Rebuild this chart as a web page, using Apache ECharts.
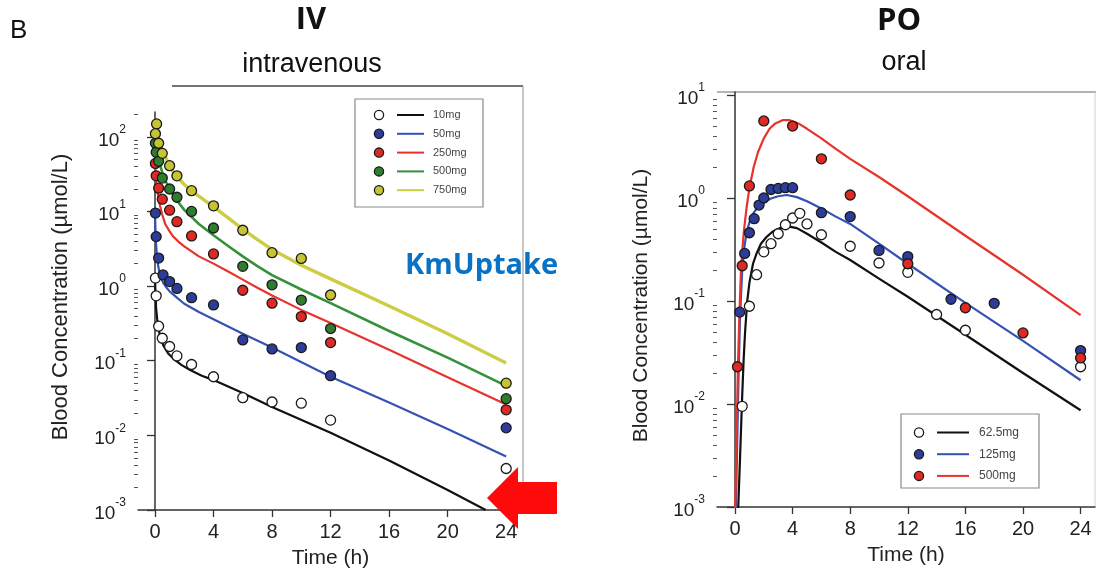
<!DOCTYPE html>
<html><head><meta charset="utf-8">
<style>html,body{margin:0;padding:0;background:#fff}#c{width:1096px;height:576px}</style>
<script src="https://cdn.jsdelivr.net/npm/echarts/dist/echarts.min.js"></script>
</head><body><div id="c"></div>
<script>
// ---------- DATA ----------
const xTicks = [0, 4, 8, 12, 16, 20, 24];
const yTicks = [0.001, 0.01, 0.1, 1, 10, 100];
const yTicksPO = [0.001, 0.01, 0.1, 1, 10];

const ivDoses = ['10mg', '50mg', '250mg', '500mg', '750mg'];
const ivObs10  = [[0.03,1.28],[0.083,0.74],[0.25,0.29],[0.5,0.20],[1,0.155],[1.5,0.116],[2.5,0.089],[4,0.061],[6,0.032],[8,0.028],[10,0.027],[12,0.016],[24,0.0036]];
const ivObs50  = [[0.03,9.5],[0.083,4.6],[0.25,2.37],[0.55,1.41],[1,1.15],[1.5,0.93],[2.5,0.70],[4,0.56],[6,0.19],[8,0.144],[10,0.15],[12,0.063],[24,0.0126]];
const ivObs250 = [[0.03,44],[0.083,30],[0.25,20.5],[0.5,14.6],[1,10.4],[1.5,7.3],[2.5,4.7],[4,2.7],[6,0.88],[8,0.59],[10,0.39],[12,0.175],[24,0.022]];
const ivObs500 = [[0.03,82],[0.083,62],[0.25,47],[0.5,28],[1,20],[1.5,15.5],[2.5,10],[4,6],[6,1.84],[8,1.04],[10,0.65],[12,0.27],[24,0.031]];
const ivObs750 = [[0.11,149],[0.03,110],[0.25,82],[0.5,60],[1,41],[1.5,30],[2.5,19],[4,11.9],[6,5.6],[8,2.8],[10,2.35],[12,0.76],[24,0.050]];

const ivFit10  = [[0,1.3],[0.04,0.75],[0.08,0.5],[0.15,0.36],[0.23,0.28],[0.35,0.21],[0.57,0.16],[0.9,0.125],[1.25,0.107],[1.8,0.088],[2.4,0.075],[3.2,0.063],[4,0.055],[6,0.037],[8,0.024],[12,0.0108],[16,0.0046],[20,0.00185],[22.6,0.001]];
const ivFit50  = [[0,9.5],[0.03,6],[0.07,3.8],[0.13,2.6],[0.23,1.8],[0.37,1.35],[0.57,1.1],[0.8,0.95],[1,0.85],[1.5,0.7],[2,0.58],[3,0.45],[4,0.36],[6,0.23],[8,0.15],[12,0.061],[16,0.0275],[20,0.0122],[24,0.0052]];
const ivFit250 = [[0,45],[0.07,28],[0.15,20],[0.25,14.8],[0.35,11.8],[0.5,9],[0.7,6.8],[1,5.4],[1.25,4.6],[1.6,3.95],[2,3.4],[3,2.5],[4,2.0],[5,1.57],[6,1.22],[7,0.95],[8,0.75],[10,0.48],[12,0.32],[16,0.14],[20,0.06],[24,0.026]];
const ivFit500 = [[0,85],[0.1,66],[0.25,50],[0.5,33],[0.75,25],[1,20],[1.5,14],[2,10.5],[3,6.8],[4,4.8],[5,3.45],[6,2.5],[7,1.85],[8,1.4],[10,0.9],[12,0.59],[16,0.25],[20,0.11],[24,0.046]];
const ivFit750 = [[0,150],[0.25,95],[0.5,68],[1,40],[1.5,29],[2,23],[3,16],[4,11.5],[5,8.2],[6,5.8],[7,4.2],[8,3.1],[10,1.9],[12,1.25],[16,0.54],[20,0.23],[24,0.093]];

const poDoses = ['62.5mg', '125mg', '500mg'];
const poObs62  = [[0.5,0.0095],[1,0.089],[1.5,0.18],[2,0.30],[2.5,0.36],[3,0.45],[3.5,0.55],[4,0.64],[4.5,0.71],[5,0.56],[6,0.44],[8,0.34],[10,0.234],[12,0.19],[14,0.074],[16,0.052],[24,0.023]];
const poObs125 = [[0.33,0.078],[0.67,0.29],[1,0.46],[1.33,0.63],[1.67,0.855],[2,1.0],[2.5,1.21],[3,1.24],[3.5,1.26],[4,1.26],[6,0.72],[8,0.66],[10,0.31],[12,0.27],[15,0.104],[18,0.095],[24,0.033]];
const poObs500 = [[0.17,0.023],[0.5,0.22],[1,1.31],[2,5.6],[4,5.0],[6,2.4],[8,1.07],[12,0.23],[16,0.086],[20,0.049],[24,0.028]];

const poFit62  = [[0.2,0.0008],[0.35,0.003],[0.5,0.012],[0.6,0.027],[0.7,0.05],[0.85,0.1],[1,0.15],[1.25,0.23],[1.5,0.29],[1.8,0.36],[2.2,0.42],[2.6,0.47],[3.1,0.51],[3.7,0.53],[4.3,0.51],[5,0.45],[6,0.37],[7,0.3],[8,0.25],[10,0.165],[12,0.11],[16,0.047],[20,0.02],[24,0.0087]];
const poFit125 = [[0.05,0.0008],[0.15,0.004],[0.25,0.02],[0.35,0.07],[0.5,0.2],[0.65,0.33],[0.8,0.46],[1,0.58],[1.3,0.72],[1.6,0.82],[2,0.91],[2.5,0.99],[3,1.04],[3.6,1.07],[4.3,1.02],[5,0.93],[6,0.79],[7,0.66],[8,0.56],[10,0.36],[12,0.23],[16,0.096],[20,0.041],[24,0.017]];
const poFit500 = [[0,0.0008],[0.1,0.004],[0.2,0.022],[0.3,0.07],[0.42,0.21],[0.6,0.45],[0.8,0.8],[1,1.25],[1.3,2.0],[1.6,2.8],[2,3.8],[2.4,4.7],[2.8,5.3],[3.3,5.7],[3.8,5.7],[4.4,5.3],[5,4.7],[6,3.8],[7,3.0],[8,2.4],[10,1.6],[12,1.04],[16,0.43],[20,0.18],[24,0.073]];

// ---------- STYLE ----------
const dotColors = ['#ffffff', '#2c3c98', '#de2a22', '#2e7d2e', '#c6c435'];
const lineColors = ['#111111', '#3452b4', '#e8322c', '#35913a', '#cccc45'];
const lineWidths = [2.2, 2.2, 2.2, 2.6, 3.4];
const poDot = ['#ffffff', '#2c3c98', '#de2a22'];
const poLine = ['#111111', '#3452b4', '#e8322c'];

const FONT = 'Liberation Sans, Arial, sans-serif';
const minorVals = [];
for (let e = -3; e <= 2; e++) for (let m = 2; m <= 9; m++) minorVals.push(+(m * Math.pow(10, e)).toPrecision(3));

function logLabel(v) {
  const e = Math.round(Math.log10(v));
  return '{b|10}{s|' + e + '}';
}
const richLbl = {
  b: { fontSize: 19, fontFamily: FONT, color: '#222', verticalAlign: 'bottom', lineHeight: 26 },
  s: { fontSize: 12, fontFamily: FONT, color: '#222', verticalAlign: 'top', lineHeight: 26 }
};

function xAx(gi, min, max) {
  return {
    type: 'value', gridIndex: gi, min: min, max: max,
    name: 'Time (h)', nameLocation: 'middle', nameGap: 38,
    nameTextStyle: { fontSize: 21, fontFamily: FONT, color: '#222' },
    axisLine: { lineStyle: { color: '#333', width: 1.5 } },
    axisTick: { show: true, length: 7, customValues: xTicks, lineStyle: { color: '#333', width: 1.3 } },
    axisLabel: { customValues: xTicks, fontSize: 20, fontFamily: FONT, color: '#222', margin: 12 },
    splitLine: { show: false }
  };
}
function yAx(gi, max, ticks, gap, pad, fs) {
  return {
    type: 'log', logBase: 10, gridIndex: gi, min: 0.001, max: max,
    name: 'Blood Concentration (µmol/L)', nameLocation: 'middle', nameGap: gap,
    nameTextStyle: { fontSize: fs, fontFamily: FONT, color: '#222', padding: pad },
    axisLine: { show: true, lineStyle: { color: '#333', width: 1.5 } },
    axisTick: { show: true, length: 8, customValues: ticks, lineStyle: { color: '#333', width: 1.3 } },
    axisLabel: { customValues: ticks, formatter: logLabel, rich: richLbl, margin: 12 },
    splitLine: { show: false }
  };
}
function yMinor(gi, max) {
  return {
    type: 'log', logBase: 10, gridIndex: gi, min: 0.001, max: max, position: 'left',
    axisLine: { show: false },
    axisTick: { show: true, length: 4, customValues: minorVals, lineStyle: { color: '#555', width: 1 } },
    axisLabel: { show: false }, splitLine: { show: false }
  };
}

const series = [];
const ivFits = [ivFit10, ivFit50, ivFit250, ivFit500, ivFit750];
const ivObs = [ivObs10, ivObs50, ivObs250, ivObs500, ivObs750];
ivDoses.forEach((d, i) => {
  series.push({ type: 'line', name: d + ' fit', xAxisIndex: 0, yAxisIndex: 0, data: ivFits[i], showSymbol: false,
    smooth: false, lineStyle: { color: lineColors[i], width: lineWidths[i], join: 'round' }, z: 2, silent: true });
});
ivDoses.forEach((d, i) => {
  series.push({ type: 'scatter', name: d, xAxisIndex: 0, yAxisIndex: 0, data: ivObs[i], symbolSize: 10,
    itemStyle: { color: dotColors[i], borderColor: '#1a1a1a', borderWidth: 1.3, opacity: 1 }, z: 3 });
});
const poFits = [poFit62, poFit125, poFit500];
const poObs = [poObs62, poObs125, poObs500];
poDoses.forEach((d, i) => {
  series.push({ type: 'line', name: d + ' fit', xAxisIndex: 1, yAxisIndex: 2, data: poFits[i], showSymbol: false,
    smooth: false, lineStyle: { color: poLine[i], width: 2.2, join: 'round' }, z: 2, silent: true });
});
poDoses.forEach((d, i) => {
  series.push({ type: 'scatter', name: d, xAxisIndex: 1, yAxisIndex: 2, data: poObs[i], symbolSize: 10,
    itemStyle: { color: poDot[i], borderColor: '#1a1a1a', borderWidth: 1.3, opacity: 1 }, z: 3 });
});

// legends as graphics built from dose arrays
const graphics = [];
function legend(x, y, w, h, rowY0, dy, cx, lx0, lx1, tx, names, dots, lines, fs) {
  graphics.push({ type: 'rect', shape: { x: x, y: y, width: w, height: h }, style: { fill: '#fff', stroke: '#8a8a8a', lineWidth: 1.2 }, z: 10 });
  names.forEach((n, i) => {
    const yy = rowY0 + i * dy;
    graphics.push({ type: 'circle', shape: { cx: cx, cy: yy, r: 4.6 }, style: { fill: dots[i], stroke: '#1a1a1a', lineWidth: 1.3 }, z: 11 });
    graphics.push({ type: 'line', shape: { x1: lx0, y1: yy, x2: lx1, y2: yy }, style: { stroke: lines[i], lineWidth: 2 }, z: 11 });
    graphics.push({ type: 'text', x: tx, y: yy, style: { text: n, font: fs + 'px ' + FONT, fill: '#444', verticalAlign: 'middle' }, z: 11 });
  });
}
legend(355, 99, 128, 108, 115, 18.8, 379, 397, 424, 433, ivDoses, dotColors, lineColors, 11);
legend(901, 414, 138, 74, 432.5, 21.7, 919, 937, 969, 979, poDoses, poDot, poLine, 12);

// frames, titles, annotation
graphics.push(
  { type: 'line', shape: { x1: 172, y1: 86, x2: 523, y2: 86 }, style: { stroke: '#444', lineWidth: 1.5 } },
  { type: 'line', shape: { x1: 523, y1: 86, x2: 523, y2: 510 }, style: { stroke: '#a0a0a0', lineWidth: 1.2 } },
  { type: 'line', shape: { x1: 717, y1: 92, x2: 1096, y2: 92 }, style: { stroke: '#9a9a9a', lineWidth: 1.5 } },
  { type: 'line', shape: { x1: 1095, y1: 92, x2: 1095, y2: 507 }, style: { stroke: '#d0d0d0', lineWidth: 1 } },
  { type: 'text', x: 10, y: 31, style: { text: 'B', font: '26px ' + FONT, fill: '#111', verticalAlign: 'middle' } },
  { type: 'text', x: 311, y: 20, style: { text: 'IV', font: 'bold 31px Open Sans, sans-serif', fill: '#111', align: 'center', verticalAlign: 'middle' } },
  { type: 'text', x: 312, y: 65, style: { text: 'intravenous', font: '27px ' + FONT, fill: '#111', align: 'center', verticalAlign: 'middle' } },
  { type: 'text', x: 899, y: 21, style: { text: 'PO', font: 'bold 31px Open Sans, sans-serif', fill: '#111', align: 'center', verticalAlign: 'middle' } },
  { type: 'text', x: 904, y: 63, style: { text: 'oral', font: '27px ' + FONT, fill: '#111', align: 'center', verticalAlign: 'middle' } },
  { type: 'text', x: 405, y: 266, style: { text: 'KmUptake', font: 'bold 29px Open Sans, sans-serif', fill: '#0a72c4', verticalAlign: 'middle' }, z: 5 },
  { type: 'polygon', shape: { points: [[487, 498], [518, 467], [518, 482], [557, 482], [557, 514], [518, 514], [518, 529]] }, style: { fill: '#ff0a0a' }, z: 12 }
);

const chart = echarts.init(document.getElementById('c'), null, { renderer: 'canvas' });
chart.setOption({
  animation: false,
  backgroundColor: '#fff',
  grid: [
    { left: 138, top: 112, width: 385, height: 398 },
    { left: 717, top: 92, width: 378, height: 415 }
  ],
  xAxis: [xAx(0, -1.16, 25.15), xAx(1, -1.25, 25)],
  yAxis: [yAx(0, 215, yTicks, 66, [0, 0, 0, 28], 22), yMinor(0, 215), yAx(1, 10.7, yTicksPO, 65, [0, 12, 0, 0], 21), yMinor(1, 10.7)],
  series: series,
  graphic: graphics
});
</script></body></html>
